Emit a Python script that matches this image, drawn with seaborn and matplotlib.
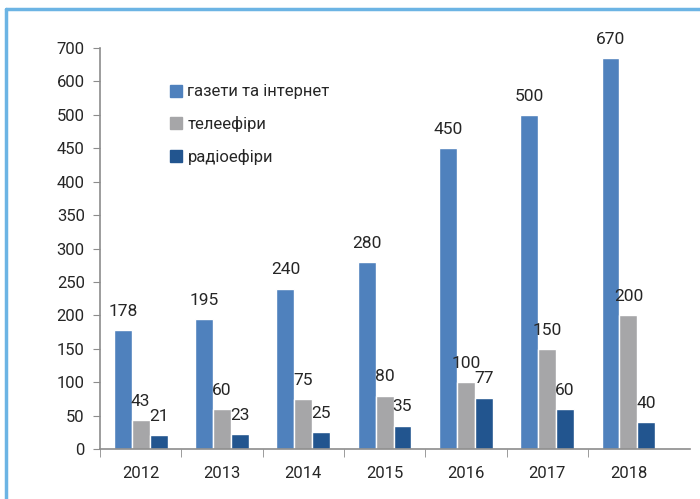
import numpy as np
import pandas as pd
import matplotlib
matplotlib.use('Agg')
import matplotlib.pyplot as plt
from matplotlib.lines import Line2D
import seaborn as sns

# data
years = ['2012', '2013', '2014', '2015', '2016', '2017', '2018']
series_names = ['газети та інтернет', 'телеефіри', 'радіоефіри']
press_online = [178, 195, 240, 280, 450, 500, 670]
tv = [43, 60, 75, 80, 100, 150, 200]
radio = [21, 23, 25, 35, 77, 60, 40]
ytick_values = [0, 50, 100, 150, 200, 250, 300, 350, 400, 450, 500, 600, 700]

colors = ['#4F81BD', '#A6A6A8', '#22558F']

df = pd.DataFrame({
    'year': years * 3,
    'series': [series_names[0]] * 7 + [series_names[1]] * 7 + [series_names[2]] * 7,
    'value': press_online + tv + radio,
})

sns.set_style('white')
plt.rcParams['font.family'] = ['Roboto', 'DejaVu Sans']

fig = plt.figure(figsize=(7, 4.99), dpi=100)
ax = fig.add_axes([0.143, 0.1002, 0.843, 0.8036])

sns.barplot(data=df, x='year', y='value', hue='series', palette=colors,
            width=0.66, gap=0, saturation=1, ax=ax)

# axis compressed above 500 (each 100 above 500 takes one 50-step)
def fwd(y):
    y = np.asarray(y, dtype=float)
    return np.where(y <= 500, y, 500 + (y - 500) / 2)

def inv(y):
    y = np.asarray(y, dtype=float)
    return np.where(y <= 500, y, 500 + (y - 500) * 2)

ax.set_yscale('function', functions=(fwd, inv))
ax.set_ylim(0, 700)
ax.set_xlim(-0.5, 6.76)
ax.set_yticks(ytick_values)
ax.set_yticklabels([str(v) for v in ytick_values])

# value labels
for cont in ax.containers:
    ax.bar_label(cont, padding=8, fontsize=12.5, color='#262626')

ax.set_xlabel('')
ax.set_ylabel('')

for s in ['top', 'right']:
    ax.spines[s].set_visible(False)
for s in ['left', 'bottom']:
    ax.spines[s].set_color('#8C8C8C')
    ax.spines[s].set_linewidth(1.2)

ax.tick_params(axis='y', which='major', left=True, length=5, color='#8C8C8C',
               labelsize=12, labelcolor='#262626', pad=6)
ax.tick_params(axis='x', which='major', bottom=False, labelsize=12,
               labelcolor='#262626', pad=9)
ax.set_xticks(np.arange(-0.5, 6.0, 1.0), minor=True)
ax.tick_params(axis='x', which='minor', bottom=True, length=6, color='#8C8C8C')

# legend
handles = [Line2D([0], [0], marker='s', linestyle='', markersize=8,
                  markerfacecolor=c, markeredgecolor=c) for c in colors]
ax.legend(handles, series_names, loc='upper left', bbox_to_anchor=(0.1, 0.93),
          frameon=False, fontsize=12, labelspacing=1.0, handletextpad=0.2,
          handlelength=1.0, borderpad=0, labelcolor='#262626')

# light blue frame at left and top
fig.add_artist(Line2D([0.009, 0.009], [0, 0.982], transform=fig.transFigure,
                      color='#6CB4E4', linewidth=2.5))
fig.add_artist(Line2D([0.009, 1.0], [0.982, 0.982], transform=fig.transFigure,
                      color='#6CB4E4', linewidth=2.5))

fig.savefig('out.png', dpi=100)
